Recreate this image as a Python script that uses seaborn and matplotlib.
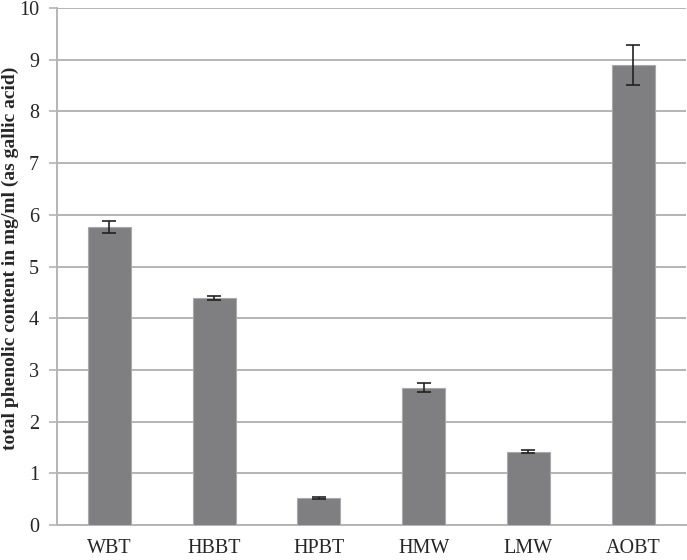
import matplotlib
matplotlib.use("Agg")
import matplotlib.pyplot as plt
import numpy as np
import pandas as pd
import seaborn as sns

categories = ["WBT", "HBBT", "HPBT", "HMW", "LMW", "AOBT"]
phenolic = [5.76, 4.40, 0.52, 2.66, 1.42, 8.90]
phenolic_err = [0.12, 0.04, 0.02, 0.09, 0.03, 0.38]

df = pd.DataFrame({"sample": categories, "phenolic": phenolic})

sns.set_style("white")
plt.rcParams["font.family"] = ["Liberation Serif", "DejaVu Serif"]

fig = plt.figure(figsize=(6.87, 5.60), dpi=100)
ax = fig.add_axes([0.083, 0.0625, 0.915, 0.923])

sns.barplot(data=df, x="sample", y="phenolic", color="#7f7f81", saturation=1,
            width=0.41, edgecolor="#a9a9ab", linewidth=0.8, errorbar=None, ax=ax, zorder=3)
ax.errorbar(np.arange(len(categories)), phenolic, yerr=phenolic_err, fmt="none",
            ecolor="#222222", elinewidth=1.2, capsize=5, capthick=1.2, zorder=4)

ax.set_ylim(0, 10)
ax.set_xlim(-0.5, len(categories) - 0.5)
ax.set_yticks(range(0, 11))
ax.yaxis.grid(True, color="#b4b4b4", linewidth=1.4, zorder=0)
ax.set_axisbelow(True)

for side in ["top", "right"]:
    ax.spines[side].set_visible(False)
for side in ["left", "bottom"]:
    ax.spines[side].set_color("#b4b4b4")
    ax.spines[side].set_linewidth(1.4)

ax.set_xticks(np.arange(len(categories)) + 0.5, minor=True)
ax.tick_params(axis="x", which="major", length=0, labelsize=14.5, pad=10)
ax.tick_params(axis="x", which="minor", length=5, width=1.2, color="#b4b4b4", direction="out")
ax.tick_params(axis="y", length=6, width=1.2, color="#b4b4b4", direction="out", labelsize=14.5,
               left=True, pad=7)

ax.set_xlabel("")
ax.set_ylabel("total phenolic content in mg/ml (as gallic acid)", fontsize=14,
              fontweight="bold")
ax.yaxis.set_label_coords(-0.06, 0.515)

fig.savefig("out.png", dpi=100)
